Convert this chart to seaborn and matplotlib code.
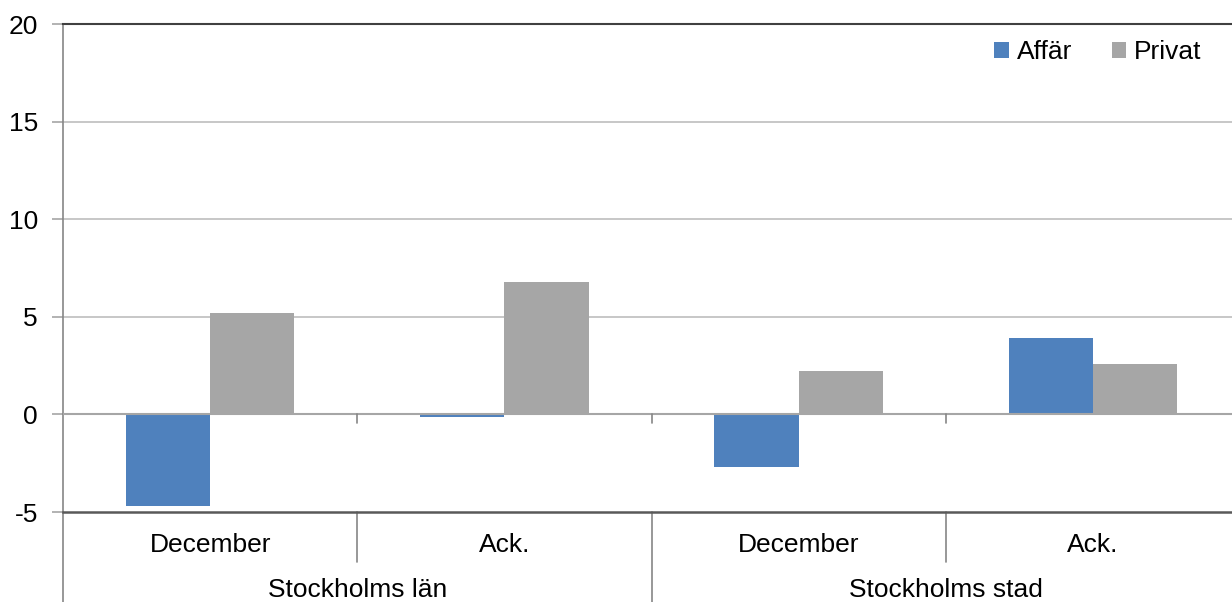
import matplotlib
matplotlib.use("Agg")
import matplotlib.pyplot as plt
import matplotlib.transforms as mtransforms
import seaborn as sns
import pandas as pd

# Data
regions = ["Stockholms län", "Stockholms län", "Stockholms stad", "Stockholms stad"]
periods = ["December", "Ack.", "December", "Ack."]
affar = [-4.7, -0.15, -2.7, 3.9]
privat = [5.2, 6.8, 2.2, 2.6]
series_names = ["Affär", "Privat"]
yticks = [-5, 0, 5, 10, 15, 20]
group_labels = ["Stockholms län", "Stockholms stad"]

sns.set_theme(style="white")
plt.rcParams['font.family'] = ['Liberation Sans', 'DejaVu Sans']
plt.rcParams['text.color'] = '#000000'

FS = 19

cats = [f"{r}|{p}" for r, p in zip(regions, periods)]
df = pd.DataFrame({
    "cat": cats * 2,
    "value": affar + privat,
    "series": [series_names[0]] * 4 + [series_names[1]] * 4,
})

fig = plt.figure(figsize=(12.32, 6.02), dpi=100)
ax = fig.add_axes([63 / 1232, 90 / 602, (1240 - 63) / 1232, 488 / 602])

palette = {"Affär": "#4F81BD", "Privat": "#A6A6A6"}
sns.barplot(data=df, x="cat", y="value", hue="series", order=cats,
            palette=palette, saturation=1, width=0.572, gap=0, ax=ax, legend=True,
            edgecolor="none", linewidth=0, zorder=3)

ax.set_xlim(-0.5, 3.5)
ax.set_ylim(-5, 20)
ax.set_yticks(yticks)
ax.set_yticklabels([str(t) for t in yticks], fontsize=FS, color="#000000")
ax.set_xticks([])
ax.set_xlabel("")
ax.set_ylabel("")

# gridlines
for t in [5, 10, 15]:
    ax.axhline(t, color="#BEBEBE", lw=1.2, zorder=1)
ax.axhline(0, color="#A6A6A6", lw=1.5, zorder=4)

ax.spines["right"].set_visible(False)
ax.spines["top"].set_color("#404040")
ax.spines["top"].set_linewidth(1.5)
ax.spines["bottom"].set_color("#595959")
ax.spines["bottom"].set_linewidth(1.8)
ax.spines["left"].set_color("#868686")
ax.spines["left"].set_linewidth(1.2)

ax.tick_params(axis="y", length=8, width=1.2, color="#A6A6A6", pad=10, left=True)

# ticks on the zero line
for xb in [0.5, 1.5, 2.5]:
    ax.plot([xb, xb], [0, -0.42], color="#868686", lw=1.2, zorder=4)

trans = mtransforms.blended_transform_factory(ax.transData, ax.transAxes)
# multi-level category separators
for xb in [-0.5, 1.5]:
    ax.plot([xb, xb], [0, -0.19], color="#868686", lw=1.2, transform=trans, clip_on=False)
for xb in [0.5, 2.5]:
    ax.plot([xb, xb], [0, -0.102], color="#868686", lw=1.2, transform=trans, clip_on=False)

for i, p in enumerate(periods):
    ax.text(i, -0.0676, p, transform=trans, ha="center", va="center", fontsize=FS, color="#000000")
for j, g in enumerate(group_labels):
    ax.text(2 * j + 0.5, -0.16, g, transform=trans, ha="center", va="center", fontsize=FS, color="#000000")

# legend
handles, labels = ax.get_legend_handles_labels()
leg = ax.legend(handles, labels, loc="upper right", bbox_to_anchor=((1220 - 63) / 1177, 1.005),
                ncol=2, frameon=False, fontsize=FS, handlelength=0.55, handleheight=0.55,
                handletextpad=0.3, columnspacing=1.5, borderaxespad=0.3)
for t in leg.get_texts():
    t.set_color("#000000")

fig.savefig("out.png", dpi=100)
